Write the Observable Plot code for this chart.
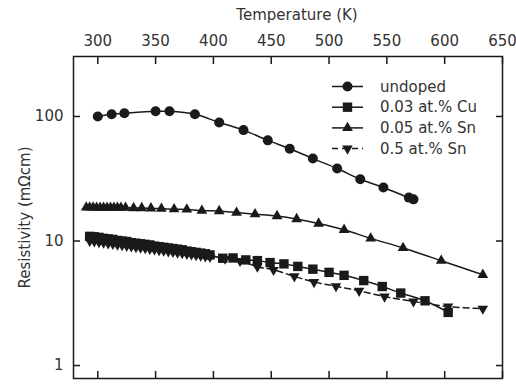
<!DOCTYPE html>
<html>
<head>
<meta charset="utf-8">
<script src="https://cdn.jsdelivr.net/npm/d3@7"></script>
<script src="https://cdn.jsdelivr.net/npm/@observablehq/plot@0.6"></script>
<style>
  html, body { margin: 0; padding: 0; background: #fff; }
  #chart svg { display: block; }
</style>
</head>
<body>
<div id="chart"></div>
<script>
// ---- data ----
const seriesNames = ["undoped", "0.03 at.% Cu", "0.05 at.% Sn", "0.5 at.% Sn"];

const undopedT = [300, 312, 323, 350, 362, 384, 405, 426, 447, 466, 486, 507, 527, 547, 569, 573];
const undopedR = [100, 104, 106, 110, 110, 104, 89.5, 77.7, 64.3, 55.1, 45.9, 38.2, 31.3, 26.9, 22.3, 21.6];

const cuT = [293, 297, 301, 305, 309, 313, 317, 321, 325, 329, 333, 337, 341, 345, 349, 353, 357, 361, 365, 369, 373, 377, 381, 385, 389, 393,
             397, 408, 417, 428, 438, 449, 461, 473, 486, 500, 513, 530, 546, 562, 583, 603];
const cuR = [10.9, 10.8, 10.7, 10.5, 10.4, 10.3, 10.1, 10.0, 9.9, 9.7, 9.6, 9.5, 9.4, 9.3, 9.1, 9.0, 8.9, 8.8, 8.7, 8.6, 8.5, 8.3, 8.2, 8.1, 8.0, 7.9,
             7.73, 7.27, 7.31, 7.05, 6.96, 6.71, 6.55, 6.25, 5.94, 5.6, 5.3, 4.81, 4.31, 3.82, 3.31, 2.67];

const sn005T = [290, 293, 296, 299, 302, 305, 308, 311, 314, 317, 320,
                324, 331, 338, 346, 355, 366, 377, 390, 405, 420, 436, 455, 472, 491, 513, 536, 564, 597, 633];
const sn005R = [18.6, 18.6, 18.6, 18.5, 18.5, 18.5, 18.5, 18.5, 18.5, 18.5, 18.5,
                18.5, 18.4, 18.4, 18.3, 18.2, 18.0, 17.9, 17.5, 17.4, 16.9, 16.4, 15.85, 15.0, 13.8, 12.3, 10.5, 8.79, 6.95, 5.35];

const sn05T = [293, 297, 301, 305, 309, 313, 317, 321, 325, 329, 333, 337, 341, 345, 349, 353, 357, 361, 365, 369, 373, 377, 381, 385, 389, 393, 397,
               410, 423, 438, 452, 470, 487, 506, 526, 548, 573, 603, 633];
const sn05R = [10.0, 9.9, 9.8, 9.68, 9.57, 9.46, 9.35, 9.25, 9.14, 9.04, 8.94, 8.84, 8.74, 8.64, 8.54, 8.44, 8.35, 8.25, 8.16, 8.06, 7.97, 7.88, 7.79, 7.7, 7.62, 7.53, 7.45,
               7.2, 6.92, 6.22, 5.86, 5.2, 4.68, 4.33, 3.98, 3.58, 3.27, 2.98, 2.86];

const xTicks = [300, 350, 400, 450, 500, 550, 600, 650];
const yTicks = [1, 10, 100];

// ---- helpers ----
const zip = (T, R) => T.map((t, i) => ({T: t, R: R[i]}));
const undoped = zip(undopedT, undopedR);
const cu = zip(cuT, cuR);
const sn005 = zip(sn005T, sn005R);
const sn05 = zip(sn05T, sn05R);

const INK = "#1a1a1a";
const TXT = "#333";
const FONT = "DejaVu Sans, Verdana, sans-serif";

const triangleDown = {
  draw(context, size) {
    const s3 = Math.sqrt(3);
    const y = -Math.sqrt(size / (s3 * 3));
    context.moveTo(0, -y * 2);
    context.lineTo(-s3 * y, y);
    context.lineTo(s3 * y, y);
    context.closePath();
  }
};

const symbols = [
  {sym: "circle", r: 5.0, dash: null},
  {sym: "square", r: 5.3, dash: null},
  {sym: "triangle", r: 4.0, dash: null},
  {sym: triangleDown, r: 3.9, dash: "6,4"}
];
const datasets = [undoped, cu, sn005, sn05];

const marks = [];
datasets.forEach((d, i) => {
  marks.push(Plot.line(d, {x: "T", y: "R", stroke: INK, strokeWidth: 1.5, curve: "catmull-rom", strokeDasharray: symbols[i].dash}));
});
datasets.forEach((d, i) => {
  marks.push(Plot.dot(d, {x: "T", y: "R", r: symbols[i].r, symbol: symbols[i].sym, fill: INK, stroke: "none"}));
});

const chart = Plot.plot({
  width: 516,
  height: 384,
  marginLeft: 73,
  marginRight: 14,
  marginTop: 56,
  marginBottom: 6,
  style: {fontFamily: FONT, fontSize: "15px", color: TXT, background: "#fff", overflow: "visible"},
  x: {domain: [279, 650]},
  y: {type: "log", domain: [0.787, 303]},
  marks: [
    // labels
    Plot.axisX({anchor: "top", ticks: xTicks, tickSize: 0, tickPadding: 11, label: null, fill: TXT, fontSize: 15}),
    Plot.axisY({anchor: "left", ticks: yTicks, tickSize: 0, tickPadding: 10, tickFormat: d => String(d), label: null, fill: TXT, fontSize: 15}),
    // inward ticks on all sides
    Plot.axisX({anchor: "top", ticks: xTicks, tickSize: 7, dy: 7, tickFormat: () => "", label: null, stroke: INK, strokeWidth: 1.5}),
    Plot.axisX({anchor: "bottom", ticks: xTicks, tickSize: 7, dy: -7, tickFormat: () => "", label: null, stroke: INK, strokeWidth: 1.5}),
    Plot.axisY({anchor: "left", ticks: yTicks, tickSize: 7, dx: 7, tickFormat: () => "", label: null, stroke: INK, strokeWidth: 1.5}),
    Plot.axisY({anchor: "right", ticks: yTicks, tickSize: 7, dx: -7, tickFormat: () => "", label: null, stroke: INK, strokeWidth: 1.5}),
    Plot.frame({stroke: INK, strokeWidth: 1.5}),
    Plot.text(["Temperature (K)"], {frameAnchor: "top", dx: 9, dy: -41, lineAnchor: "middle", textAnchor: "middle", fill: TXT, fontSize: 15}),
    Plot.text(["Resistivity (mΩcm)"], {frameAnchor: "left", dx: -48, rotate: -90, textAnchor: "middle", lineAnchor: "middle", fill: TXT, fontSize: 15}),
    ...marks
  ]
});

// ---- legend (inside the plot, top-right) ----
const svg = d3.select(chart);
const lg = svg.append("g").attr("font-family", FONT).attr("font-size", "15px").attr("text-anchor", "start");
seriesNames.forEach((name, i) => {
  const y = 86.5 + 20.7 * i;
  lg.append("line").attr("x1", 332).attr("x2", 363).attr("y1", y).attr("y2", y)
    .attr("stroke", INK).attr("stroke-width", 1.5)
    .attr("stroke-dasharray", symbols[i].dash);
  const sym = typeof symbols[i].sym === "string"
    ? {circle: d3.symbolCircle, square: d3.symbolSquare, triangle: d3.symbolTriangle}[symbols[i].sym]
    : symbols[i].sym;
  lg.append("path")
    .attr("transform", `translate(347.5,${y})`)
    .attr("d", d3.symbol(sym, Math.PI * symbols[i].r * symbols[i].r)())
    .attr("fill", INK);
  lg.append("text").attr("x", 380).attr("y", y).attr("dy", "0.35em")
    .attr("text-anchor", "start")
    .attr("fill", TXT).text(name);
});

document.getElementById("chart").appendChild(chart);
</script>
</body>
</html>
